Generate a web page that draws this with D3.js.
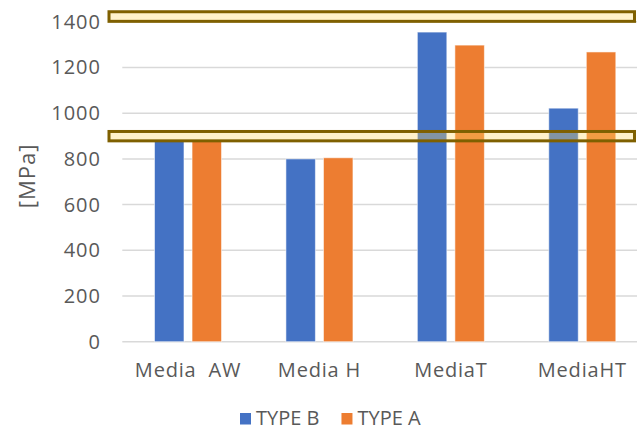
<!DOCTYPE html>
<html>
<head>
<meta charset="utf-8">
<script src="https://cdn.jsdelivr.net/npm/d3@7"></script>
<style>
  html, body { margin: 0; padding: 0; background: #fff; }
  svg { display: block; }
  text { font-family: "Open Sans", "DejaVu Sans", sans-serif; fill: #595959; }
</style>
</head>
<body>
<svg id="chart" width="637" height="430"></svg>
<script>
// ---- data ----
const categories = ["Media  AW", "Media H", "MediaT", "MediaHT"];
const seriesNames = ["TYPE B", "TYPE A"];
const typeB = [880, 800, 1355, 1022];
const typeA = [880, 805, 1298, 1268];
const yTicks = [0, 200, 400, 600, 800, 1000, 1200, 1400];
const yTitle = "[MPa]";
// highlighted value bands (annotation boxes), [low, high] in MPa
const highlightBands = [[1402, 1444], [879, 920]];

// ---- layout ----
const W = 637, H = 430;
const plot = { left: 122.3, right: 648, top: 21.8, bottom: 341.7 };
const colors = ["#4472C4", "#ED7D31"];

const svg = d3.select("#chart");

const x0 = d3.scaleBand().domain(categories)
  .range([plot.left, plot.right]).paddingInner(0.49).paddingOuter(0.245);
const x1 = d3.scaleBand().domain(seriesNames)
  .range([0, x0.bandwidth()]).paddingInner(0.215).paddingOuter(0);
const y = d3.scaleLinear().domain([0, 1400]).range([plot.bottom, plot.top]);

// gridlines
const grid = svg.append("g");
grid.selectAll("line").data(yTicks).join("line")
  .attr("x1", plot.left).attr("x2", W)
  .attr("y1", d => y(d)).attr("y2", d => y(d))
  .attr("stroke", "#d9d9d9").attr("stroke-width", 1.5);

// y axis labels
const yAxis = d3.axisLeft(y).tickValues(yTicks).tickSize(0).tickPadding(0).tickFormat(d3.format("d"));
const yg = svg.append("g").attr("transform", `translate(${101},0)`).call(yAxis);
yg.select(".domain").remove();
yg.selectAll("text").attr("font-size", 20).style("fill", "#595959")
  .style("letter-spacing", "1px")
  .style("font-family", '"Open Sans", sans-serif');

// y title
svg.append("text")
  .attr("transform", `translate(35,${176}) rotate(-90)`)
  .attr("text-anchor", "middle")
  .attr("font-size", 22)
  .style("letter-spacing", "1px")
  .text(yTitle);

// bars
const rows = categories.map((c, i) => ({ cat: c, vals: [typeB[i], typeA[i]] }));
const groups = svg.append("g").selectAll("g").data(rows).join("g")
  .attr("transform", d => `translate(${x0(d.cat)},0)`);
groups.selectAll("rect").data(d => d.vals.map((v, j) => ({ s: seriesNames[j], v, j })))
  .join("rect")
  .attr("x", d => x1(d.s))
  .attr("width", x1.bandwidth())
  .attr("y", d => y(d.v))
  .attr("height", d => y(0) - y(d.v))
  .attr("fill", d => colors[d.j])
  .attr("stroke", "#ffffff").attr("stroke-opacity", 0.55).attr("stroke-width", 1);

// x axis labels
const xAxis = d3.axisBottom(x0).tickSize(0).tickPadding(0);
const xg = svg.append("g").attr("transform", `translate(0,${377.3})`).call(xAxis);
xg.select(".domain").remove();
xg.selectAll("text").attr("font-size", 20).attr("dy", 0)
  .style("fill", "#595959").style("white-space", "pre")
  .style("letter-spacing", "0.8px")
  .style("font-family", '"Open Sans", sans-serif');

// highlight boxes
svg.append("g").selectAll("rect").data(highlightBands).join("rect")
  .attr("x", 109).attr("width", 525.5)
  .attr("y", d => y(d[1]))
  .attr("height", d => y(d[0]) - y(d[1]))
  .attr("fill", "#FFD966").attr("fill-opacity", 0.34)
  .attr("stroke", "#7F6000").attr("stroke-width", 3);

// legend
const legend = svg.append("g").attr("transform", "translate(240,424.5)");
let lx = 0;
seriesNames.forEach((name, i) => {
  const g = legend.append("g").attr("transform", `translate(${lx},0)`);
  g.append("rect").attr("x", 0).attr("y", -11.5).attr("width", 11).attr("height", 11.5)
    .attr("fill", colors[i]);
  const t = g.append("text").attr("x", 16).attr("y", 0).attr("font-size", 20).text(name);
  lx += 16 + t.node().getComputedTextLength() + 22;
});
</script>
</body>
</html>
